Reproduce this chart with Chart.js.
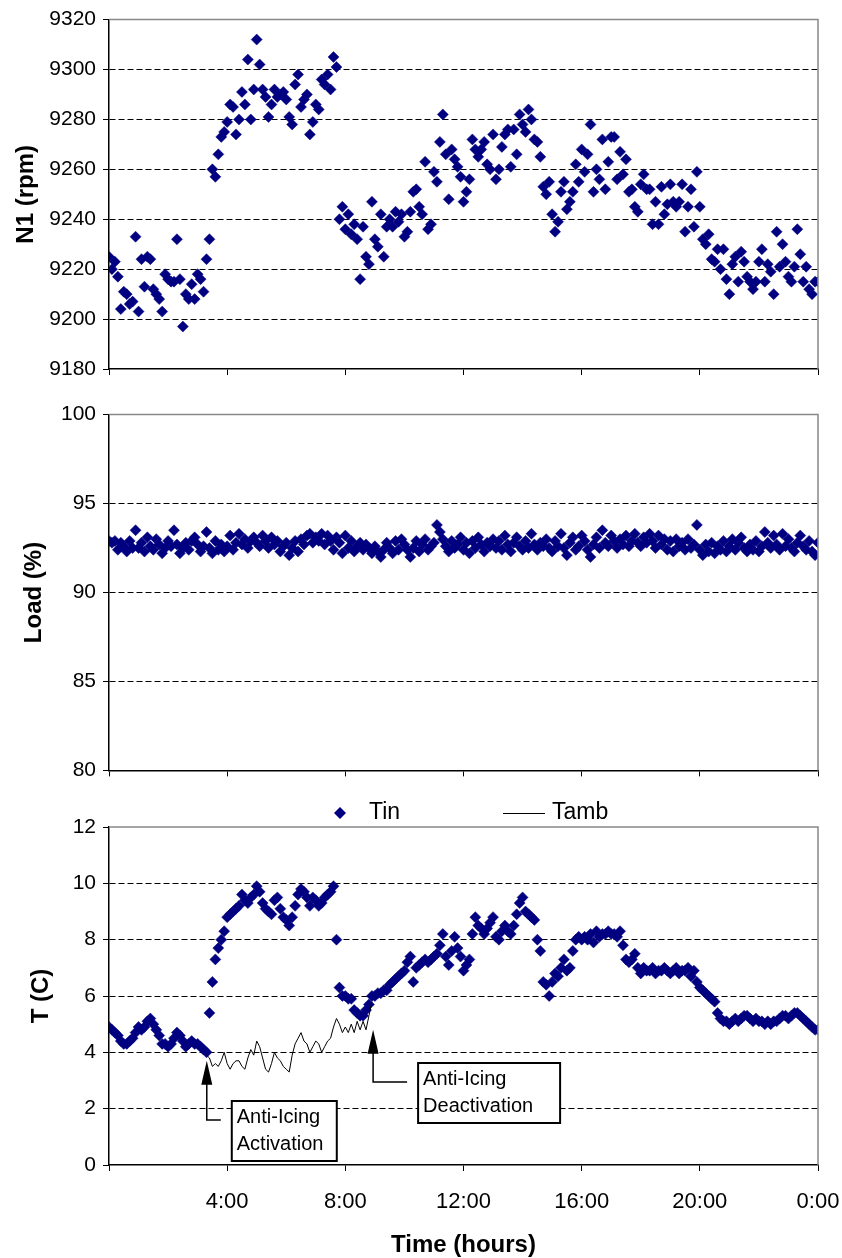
<!DOCTYPE html>
<html>
<head>
<meta charset="utf-8">
<script src="https://cdn.jsdelivr.net/npm/chart.js@4.4.1/dist/chart.umd.min.js"></script>
<style>
  html, body { margin: 0; padding: 0; background: #fff; }
  #wrap { position: relative; width: 842px; height: 1258px; }
  canvas { position: absolute; left: 0; }
</style>
</head>
<body>
<div id="wrap">
  <canvas id="n1Chart" width="842" height="395" style="top:0"></canvas>
  <canvas id="loadChart" width="842" height="395" style="top:395px"></canvas>
  <canvas id="tempChart" width="842" height="468" style="top:790px"></canvas>
</div>
<script>
// sampling interval of the logged data, hours (first sample at 0:00)
const STEP_H = 0.1;
const hourLabels = ['', '4:00', '8:00', '12:00', '16:00', '20:00', '0:00'];

// N1 (rpm), one row per hour
const n1 = [
  9225, 9220, 9223, 9217, 9204, 9211, 9210, 9206, 9207, 9233,
  9203, 9224, 9213, 9225, 9224, 9212, 9210, 9208, 9203, 9218,
  9216, 9215, 9215, 9232, 9216, 9197, 9210, 9208, 9214, 9208,
  9218, 9216, 9211, 9224, 9232, 9260, 9257, 9266, 9273, 9275,
  9279, 9286, 9285, 9274, 9280, 9291, 9286, 9304, 9280, 9292,
  9312, 9302, 9292, 9289, 9281, 9286, 9292, 9289, 9290, 9291,
  9288, 9281, 9278, 9294, 9298, 9285, 9288, 9290, 9274, 9279,
  9286, 9284, 9296, 9294, 9298, 9292, 9305, 9301, 9240, 9245,
  9236, 9242, 9234, 9238, 9232, 9216, 9237, 9225, 9222, 9247,
  9232, 9229, 9242, 9225, 9237, 9240, 9237, 9243, 9239, 9242,
  9233, 9235, 9243, 9251, 9252, 9245, 9242, 9263, 9236, 9238,
  9259, 9255, 9271, 9282, 9266, 9248, 9268, 9264, 9261, 9257,
  9247, 9251, 9256, 9272, 9268, 9265, 9268, 9271, 9262, 9260,
  9274, 9256, 9260, 9269, 9274, 9276, 9261, 9276, 9266, 9282,
  9278, 9275, 9284, 9280, 9272, 9271, 9265, 9253, 9250, 9255,
  9242, 9235, 9239, 9251, 9255, 9244, 9247, 9251, 9262, 9255,
  9268, 9259, 9266, 9278, 9251, 9260, 9256, 9272, 9252, 9263,
  9273, 9273, 9256, 9267, 9258, 9264, 9251, 9252, 9245, 9243,
  9254, 9258, 9252, 9252, 9238, 9247, 9238, 9253, 9242, 9246,
  9254, 9247, 9245, 9247, 9254, 9235, 9245, 9252, 9237, 9259,
  9245, 9232, 9230, 9234, 9224, 9223, 9228, 9220, 9228, 9216,
  9210, 9222, 9225, 9215, 9227, 9223, 9217, 9215, 9212, 9215,
  9223, 9228, 9215, 9222, 9219, 9210, 9235, 9221, 9230, 9223,
  9217, 9215, 9221, 9236, 9226, 9215, 9221, 9212, 9210, 9215,
  9215
];

// Load (%)
const load = [
  92.9, 92.8, 92.9, 92.4, 92.8, 92.6, 92.3, 92.9, 92.5, 93.5,
  92.5, 92.8, 92.3, 93.1, 92.6, 92.4, 93.0, 92.7, 92.2, 92.5,
  92.9, 92.6, 93.5, 92.7, 92.2, 92.5, 92.8, 92.4, 92.9, 93.1,
  92.7, 92.3, 92.6, 93.4, 92.5, 92.2, 92.9, 92.4, 92.7, 92.3,
  92.6, 93.2, 92.4, 92.8, 93.3, 92.7, 93.0, 92.5, 92.9, 93.1,
  92.8, 92.6, 93.2, 92.9, 92.5, 93.1, 92.7, 92.9, 92.3, 92.6,
  92.8, 92.1, 92.5, 92.9, 92.3, 93.0, 92.7, 93.2, 93.3, 92.8,
  93.1, 92.9, 93.3, 92.7, 93.2, 92.9, 92.4, 93.1, 92.8, 92.2,
  93.2, 92.5, 92.9, 92.3, 92.6, 92.8, 92.4, 92.7, 92.5, 92.2,
  92.6, 92.3, 92.0, 92.4, 92.8, 92.5, 92.2, 92.9, 92.4, 93.0,
  92.7, 92.4, 92.0, 92.5, 92.9, 92.3, 92.7, 93.0, 92.4, 92.6,
  92.8, 93.8, 93.4, 93.0, 92.6, 92.3, 92.9, 92.5, 92.7, 93.1,
  92.4, 92.8, 92.2, 92.9, 92.5, 93.1, 92.7, 92.3, 92.8, 92.6,
  93.0, 92.5, 92.9, 92.4, 93.2, 92.7, 92.3, 92.8, 93.1, 92.6,
  92.4, 92.9, 92.5, 93.3, 92.7, 92.4, 92.8, 92.6, 93.0, 92.5,
  92.3, 92.9, 92.6, 93.3, 92.5, 92.1, 92.8, 93.1, 92.4, 92.6,
  93.2, 92.9, 92.4, 92.0, 92.7, 93.1, 92.5, 93.5, 92.8, 92.6,
  93.2, 92.9, 92.5, 93.0, 92.7, 93.2, 92.6, 92.9, 93.3, 92.8,
  92.6, 93.1, 92.8, 93.3, 92.9, 92.5, 93.2, 92.7, 93.0, 92.4,
  92.9, 92.3, 93.0, 92.6, 92.8, 92.4, 93.0, 92.5, 92.7, 93.8,
  92.4, 92.1, 92.7, 92.3, 92.8, 92.2, 92.6, 92.4, 92.9, 92.3,
  92.6, 93.0, 92.4, 92.8, 93.1, 92.5, 92.3, 92.7, 92.4, 92.9,
  92.3, 92.6, 93.4, 92.8, 92.5, 93.2, 92.7, 92.4, 93.3, 92.6,
  93.0, 92.5, 92.3, 92.8, 93.2, 92.6, 92.4, 92.9, 92.3, 92.1,
  92.8
];

// Tin (C)
const tin = [
  4.9, 4.8, 4.7, 4.6, 4.4, 4.3, 4.3, 4.4, 4.5, 4.7,
  4.9, 4.8, 4.9, 5.1, 5.2, 5.0, 4.8, 4.6, 4.3, 4.3,
  4.2, 4.3, 4.5, 4.7, 4.6, 4.4, 4.2, 4.3, 4.4, 4.3,
  4.3, 4.2, 4.1, 4.0, 5.4, 6.5, 7.3, 7.7, 8.0, 8.3,
  8.8, 8.9, 9.0, 9.1, 9.2, 9.6, 9.4, 9.3, 9.5, 9.6,
  9.9, 9.7, 9.3, 9.1, 9.0, 8.9, 9.4, 9.5, 9.1, 8.8,
  8.7, 8.5, 8.8, 9.2, 9.6, 9.8, 9.7, 9.5, 9.2, 9.5,
  9.4, 9.2, 9.3, 9.5, 9.6, 9.7, 9.9, 8.0, 6.3, 6.0,
  6.0, 5.9, 5.9, 5.5, 5.4, 5.3, 5.3, 5.5, 5.7, 6.0,
  6.0, 6.1, 6.1, 6.2, 6.2, 6.4, 6.5, 6.6, 6.7, 6.8,
  6.9, 7.2, 7.4, 6.5, 7.0, 7.1, 7.2, 7.3, 7.2, 7.3,
  7.4, 7.5, 7.8, 8.2, 7.4, 7.1, 7.6, 8.1, 7.7, 7.4,
  6.9, 7.1, 7.3, 8.2, 8.8, 8.5, 8.4, 8.2, 8.4, 8.6,
  8.8, 8.1, 8.0, 8.3, 8.5, 8.3, 8.2, 8.5, 8.9, 9.3,
  9.5, 9.0, 8.9, 8.8, 8.7, 8.0, 7.6, 6.5, 6.4, 6.0,
  6.5, 6.8, 6.7, 7.0, 7.3, 6.9, 7.0, 7.6, 8.0, 8.1,
  8.0, 8.1, 8.0, 8.2, 7.9, 8.3, 8.1, 8.2, 8.2, 8.3,
  8.2, 8.2, 8.1, 8.3, 7.8, 7.3, 7.2, 7.3, 7.5, 7.0,
  6.8, 7.0, 6.9, 6.9, 7.0, 6.8, 6.9, 6.9, 7.0, 6.9,
  6.8, 6.9, 7.0, 6.8, 6.9, 6.9, 7.0, 6.7, 6.9, 6.5,
  6.3, 6.2, 6.1, 6.0, 5.9, 5.8, 5.4, 5.2, 5.1, 5.1,
  5.0, 5.1, 5.2, 5.1, 5.2, 5.3, 5.3, 5.2, 5.1, 5.2,
  5.1, 5.1, 5.0, 5.1, 5.0, 5.1, 5.1, 5.2, 5.3, 5.3,
  5.2, 5.3, 5.4, 5.4, 5.3, 5.2, 5.1, 5.0, 4.9, 4.8,
  4.8
];

// Tamb (C), logged separately while anti-icing was on, from 3:18
const TAMB_START_H = 3.3;
const tamb = [
  3.9, 3.8, 3.5, 3.6, 3.5, 3.7, 4.0,
  3.6, 3.4, 3.6, 3.7, 3.7, 3.5, 3.4, 3.8, 4.1, 3.9,
  4.4, 4.2, 3.8, 3.4, 3.3, 3.6, 4.0, 3.8, 3.7, 3.5,
  3.4, 3.3, 3.9, 4.3, 4.5, 4.7, 4.4, 4.3, 4.0, 4.2,
  4.4, 4.3, 4.0, 4.2, 4.4, 4.5, 4.9, 5.2, 5.0, 4.7,
  4.9, 4.7, 5.0, 4.7, 5.1, 4.8, 5.1, 4.8, 5.3, 5.8
];

const ACTIVATION_H = 3.31;
const DEACTIVATION_H = 8.94;

const FONT = '"Liberation Sans", Arial, Helvetica, sans-serif';
const NAVY = '#000080';
const PLOT_LEFT = 109;

const toPoints = (vals, start) => vals.map((v, i) => ({ x: +(start + i * STEP_H).toFixed(2), y: v }));

function xAxis(showLabels, height) {
  return {
    type: 'linear', min: 0, max: 24,
    ticks: {
      display: showLabels, stepSize: 4, autoSkip: false, maxRotation: 0,
      callback: (v, i) => hourLabels[i],
      font: { family: FONT, size: 22 }, color: '#000', padding: 18
    },
    grid: { drawOnChartArea: false, drawTicks: true, tickLength: 6, tickColor: '#000' },
    border: { color: '#000', width: 1.5 },
    title: {
      display: showLabels, text: 'Time (hours)', color: '#000',
      font: { family: FONT, size: 24, weight: 'bold', lineHeight: 1 }, padding: { top: 0, bottom: 1 }
    },
    afterFit: s => { s.height = height; s.paddingLeft = 0; s.paddingRight = 0; }
  };
}

function yAxis(min, max, step, title, titlePad) {
  return {
    min: min, max: max,
    ticks: {
      stepSize: step, callback: v => String(v),
      font: { family: FONT, size: 21 }, color: '#000', padding: 7
    },
    grid: {
      color: c => (c.tick && (c.tick.value === min || c.tick.value === max)) ? 'rgba(0,0,0,0)' : '#000',
      tickLength: 6, tickColor: '#000', tickBorderDash: []
    },
    border: { color: '#000', width: 1.5, dash: [6, 3] },
    title: {
      display: true, text: title, color: '#000',
      font: { family: FONT, size: 24, weight: 'bold' }, padding: { top: titlePad, bottom: 0 }
    },
    afterFit: s => { s.width = PLOT_LEFT; }
  };
}

const markers = {
  pointStyle: 'rectRot', pointRadius: 5.5, pointHoverRadius: 5.5,
  backgroundColor: NAVY, borderColor: NAVY, pointBorderWidth: 0.5
};

// gray top and right edges of each plot area
const frame = {
  id: 'frame',
  afterDraw(chart) {
    const { ctx, chartArea: a } = chart;
    ctx.save();
    ctx.strokeStyle = '#888';
    ctx.lineWidth = 1.5;
    ctx.beginPath();
    ctx.moveTo(a.left, a.top);
    ctx.lineTo(a.right, a.top);
    ctx.lineTo(a.right, a.bottom);
    ctx.stroke();
    ctx.restore();
  }
};

function baseOptions(pad, x, y) {
  return {
    responsive: false, animation: false, events: [],
    layout: { padding: pad },
    plugins: { legend: { display: false }, tooltip: { enabled: false } },
    scales: { x: x, y: y }
  };
}

new Chart(document.getElementById('n1Chart'), {
  type: 'scatter',
  data: { datasets: [Object.assign({ label: 'N1', data: toPoints(n1, 0) }, markers)] },
  options: baseOptions({ top: 17, right: 24, left: 0, bottom: 0 }, xAxis(false, 26), yAxis(9180, 9320, 20, 'N1 (rpm)', 12)),
  plugins: [frame]
});

new Chart(document.getElementById('loadChart'), {
  type: 'scatter',
  data: { datasets: [Object.assign({ label: 'Load', data: toPoints(load, 0) }, markers)] },
  options: baseOptions({ top: 18, right: 24, left: 0, bottom: 0 }, xAxis(false, 19), yAxis(80, 100, 5, 'Load (%)', 20)),
  plugins: [frame]
});

function drawCallout(ctx, ax, tipY, shaftEnd, elbowX, box, lines) {
  ctx.save();
  ctx.strokeStyle = '#000';
  ctx.fillStyle = '#000';
  ctx.lineWidth = 1.5;
  ctx.beginPath();
  ctx.moveTo(ax, tipY + 20);
  ctx.lineTo(ax, shaftEnd);
  ctx.lineTo(elbowX, shaftEnd);
  ctx.stroke();
  ctx.beginPath();
  ctx.moveTo(ax, tipY);
  ctx.lineTo(ax - 5.5, tipY + 24);
  ctx.lineTo(ax + 5.5, tipY + 24);
  ctx.closePath();
  ctx.fill();
  ctx.fillStyle = '#fff';
  ctx.fillRect(box.x, box.y, box.w, box.h);
  ctx.lineWidth = 2;
  ctx.strokeRect(box.x, box.y, box.w, box.h);
  ctx.fillStyle = '#000';
  ctx.font = '20px ' + FONT;
  ctx.textBaseline = 'middle';
  ctx.textAlign = 'left';
  lines.forEach((t, i) => ctx.fillText(t, box.x + 5, box.y + 16 + i * 27));
  ctx.restore();
}

const tempDecor = {
  id: 'tempDecor',
  afterDraw(chart) {
    const { ctx } = chart;
    const xs = chart.scales.x, ys = chart.scales.y;
    // legend
    ctx.save();
    const ly = 23;
    ctx.fillStyle = NAVY;
    ctx.beginPath();
    ctx.moveTo(340, ly - 6); ctx.lineTo(346, ly); ctx.lineTo(340, ly + 6); ctx.lineTo(334, ly);
    ctx.closePath();
    ctx.fill();
    ctx.strokeStyle = '#000';
    ctx.lineWidth = 1;
    ctx.beginPath();
    ctx.moveTo(503, ly + 0.5); ctx.lineTo(545, ly + 0.5);
    ctx.stroke();
    ctx.fillStyle = '#000';
    ctx.font = '23px ' + FONT;
    ctx.textBaseline = 'middle';
    ctx.fillText('Tin', 369, ly);
    ctx.fillText('Tamb', 552, ly);
    ctx.restore();

    const a = xs.getPixelForValue(ACTIVATION_H);
    drawCallout(ctx, a, ys.getPixelForValue(3.7), 330, a + 14,
      { x: a + 25, y: 311, w: 105, h: 60 }, ['Anti-Icing', 'Activation']);
    const d = xs.getPixelForValue(DEACTIVATION_H);
    drawCallout(ctx, d, ys.getPixelForValue(4.8), 292, d + 34,
      { x: d + 45, y: 273, w: 142, h: 60 }, ['Anti-Icing', 'Deactivation']);
  }
};

new Chart(document.getElementById('tempChart'), {
  type: 'scatter',
  data: {
    datasets: [
      Object.assign({ label: 'Tin', data: toPoints(tin, 0), order: 1 }, markers),
      {
        label: 'Tamb', data: toPoints(tamb, TAMB_START_H), order: 0,
        showLine: true, pointRadius: 0, borderColor: '#000', borderWidth: 1, tension: 0
      }
    ]
  },
  options: baseOptions({ top: 37, right: 24, left: 0, bottom: 0 }, xAxis(true, 93), yAxis(0, 12, 2, 'T (C)', 27)),
  plugins: [frame, tempDecor]
});
</script>
</body>
</html>
